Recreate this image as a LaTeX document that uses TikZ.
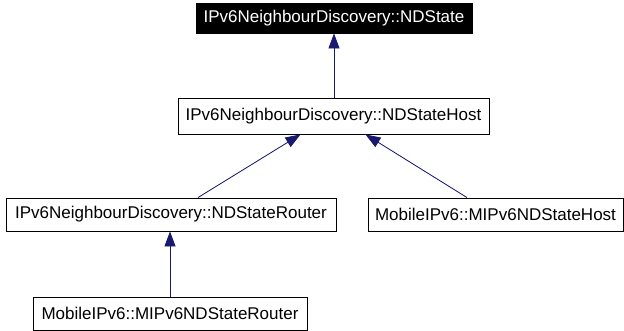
\documentclass[tikz,border=0pt]{standalone}
\usepackage{fontspec}
\setmainfont{Liberation Sans}
\usetikzlibrary{arrows.meta}
\definecolor{edgeblue}{HTML}{191970}
\tikzset{
  cls/.style={draw=black, line width=0.9pt, fill=white, inner sep=0pt, anchor=center,
              font=\fontsize{17}{20}\selectfont},
  rootcls/.style={cls, fill=black, text=white},
  inherit/.style={draw=edgeblue, line width=0.8pt,
                  -{Triangle[width=11pt,length=15pt]}, fill=edgeblue}
}
\begin{document}
\begin{tikzpicture}[x=1pt,y=-1pt]
  \useasboundingbox (0,0) rectangle (624,331);
  \node[rootcls, minimum width=276pt, minimum height=30pt] (base) at (334,18) {IPv6NeighbourDiscovery::NDState};
  \node[cls, minimum width=311pt, minimum height=36pt] (host) at (333.5,116) {IPv6NeighbourDiscovery::NDStateHost};
  \node[cls, minimum width=330pt, minimum height=33pt] (router) at (171,214.5) {IPv6NeighbourDiscovery::NDStateRouter};
  \node[cls, minimum width=255pt, minimum height=33pt] (mhost) at (495.5,214.5) {MobileIPv6::MIPv6NDStateHost};
  \node[cls, minimum width=274pt, minimum height=33pt] (mrouter) at (170,313.5) {MobileIPv6::MIPv6NDStateRouter};

  \draw[inherit] (host.north -| base.south) -- (base.south);
  \draw[inherit] ([xshift=27pt]router.north) -- ([xshift=-33pt]host.south);
  \draw[inherit] ([xshift=-28.5pt]mhost.north) -- ([xshift=32pt]host.south);
  \draw[inherit] (mrouter.north) -- (mrouter.north |- router.south);
\end{tikzpicture}
\end{document}
